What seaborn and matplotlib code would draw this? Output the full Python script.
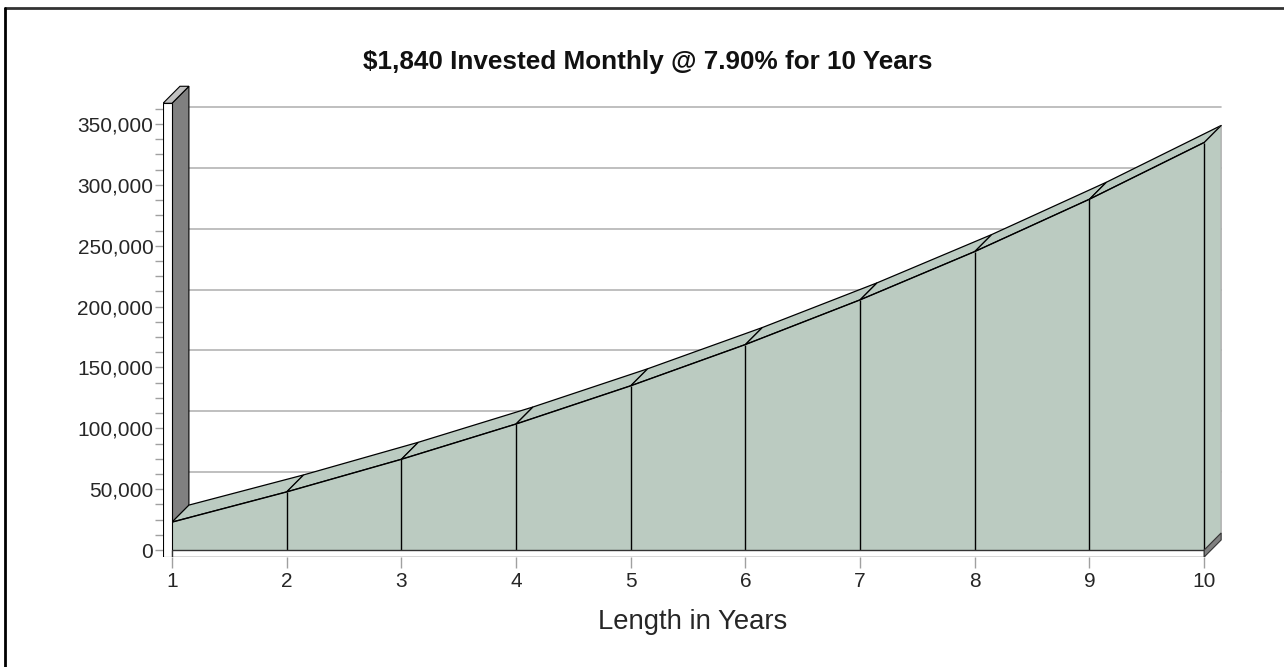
import matplotlib
matplotlib.use("Agg")
import matplotlib.pyplot as plt
from matplotlib.patches import Polygon
from matplotlib.lines import Line2D
from matplotlib.ticker import FuncFormatter, FixedLocator
import pandas as pd
import seaborn as sns

# values (balance at end of each year)
years = [1, 2, 3, 4, 5, 6, 7, 8, 9, 10]
balance = [22900, 47700, 74500, 103500, 134900, 168800, 205500, 245200, 288200, 334800]
y_ticks = [0, 50000, 100000, 150000, 200000, 250000, 300000, 350000]
title = r"\$1,840 Invested Monthly @ 7.90% for 10 Years"
x_label = "Length in Years"

df = pd.DataFrame({"year": years, "balance": balance})

sns.set_theme(style="white")
plt.rcParams["font.family"] = ["Liberation Sans", "DejaVu Sans"]

AREA = "#bbcbc1"
WALL = "#808080"
DX, DY = 0.148, 14000          # depth offset of the 3d effect
FLOOR = -5750
WALL_LEFT = 0.922
WALL_TOP = 367000

fig = plt.figure(figsize=(12.84, 6.67), dpi=100)
ax = fig.add_axes([163 / 1284, 110 / 667, 1067 / 1284, 477 / 667])
ax.set_xlim(WALL_LEFT, 10.225)
ax.set_ylim(FLOOR, 386150)
for s in ax.spines.values():
    s.set_visible(False)

x0, x1 = df["year"].iloc[0], df["year"].iloc[-1]

# back wall gridlines
for t in y_ticks[1:]:
    ax.plot([x0 + DX, x1 + DX], [t + DY, t + DY], color="#b4b4b4", lw=1.2, zorder=1)

# side wall
ax.add_patch(Polygon([(x0, 0), (x0 + DX, DY), (x0 + DX, WALL_TOP + DY), (x0, WALL_TOP)],
                     fc=WALL, ec="black", lw=0.8, zorder=2))
ax.add_patch(Polygon([(WALL_LEFT, WALL_TOP), (x0, WALL_TOP), (x0 + DX, WALL_TOP + DY),
                      (WALL_LEFT + DX, WALL_TOP + DY)], fc="#c0c0c0", ec="black", lw=0.8, zorder=2))
ax.add_patch(Polygon([(WALL_LEFT, FLOOR), (x0, FLOOR), (x0, WALL_TOP), (WALL_LEFT, WALL_TOP)],
                     fc="white", ec="black", lw=0.8, zorder=6))

# floor
ax.add_patch(Polygon([(x0, FLOOR), (x1, FLOOR), (x1, 0), (x0, 0)],
                     fc="white", ec="#333333", lw=1.0, zorder=6))
ax.add_patch(Polygon([(x1, FLOOR), (x1 + DX, FLOOR + DY), (x1 + DX, DY), (x1, 0)],
                     fc=WALL, ec="#333333", lw=0.8, zorder=6))

# top faces of the area
for i in range(len(years) - 1):
    xa, xb = years[i], years[i + 1]
    va, vb = balance[i], balance[i + 1]
    ax.add_patch(Polygon([(xa, va), (xb, vb), (xb + DX, vb + DY), (xa + DX, va + DY)],
                         fc=AREA, ec="black", lw=0.9, zorder=3))
# right face
ax.add_patch(Polygon([(x1, 0), (x1 + DX, DY), (x1 + DX, balance[-1] + DY), (x1, balance[-1])],
                     fc=AREA, ec="#aaaaaa", lw=0.9, zorder=3))
ax.plot([x1, x1 + DX], [balance[-1], balance[-1] + DY], color="black", lw=0.9, zorder=4)

# front face
ax.fill_between(df["year"], 0, df["balance"], color=AREA, lw=0, zorder=4)
ax.vlines(df["year"][1:], 0, df["balance"][1:], color="black", lw=1.0, zorder=5)
sns.lineplot(data=df, x="year", y="balance", color="black", lw=1.0, ax=ax, zorder=5)

# axes ticks
ax.set_yticks(y_ticks)
minor = [v * 12500 for v in range(30) if v % 4 and v * 12500 < WALL_TOP]
ax.yaxis.set_minor_locator(FixedLocator(minor))
ax.yaxis.set_major_formatter(FuncFormatter(lambda v, p: f"{int(v):,}"))
ax.set_xticks(years)
ax.set_xticklabels([str(y) for y in years])
ax.tick_params(axis="y", which="both", left=True, length=6, width=1, color="#a0a0a0",
               labelsize=15, pad=1)
ax.tick_params(axis="x", bottom=True, length=8, width=1, color="#a0a0a0", labelsize=15, pad=3)
ax.set_xlabel("")
ax.set_ylabel("")

fig.text(648 / 1284, 1 - 62 / 667, title, ha="center", va="center",
         fontsize=18.8, fontweight="bold", color="#111111")
fig.text(693 / 1284, 1 - 622 / 667, x_label, ha="center", va="center", fontsize=19.8)

# outer border (top and left edges only are in frame)
fig.add_artist(Line2D([5 / 1284, 1], [1 - 7.5 / 667] * 2, color="#333333", lw=2,
                      transform=fig.transFigure))
fig.add_artist(Line2D([5 / 1284] * 2, [0, 1 - 7.5 / 667], color="black", lw=2,
                      transform=fig.transFigure))

fig.savefig("out.png", dpi=100)
